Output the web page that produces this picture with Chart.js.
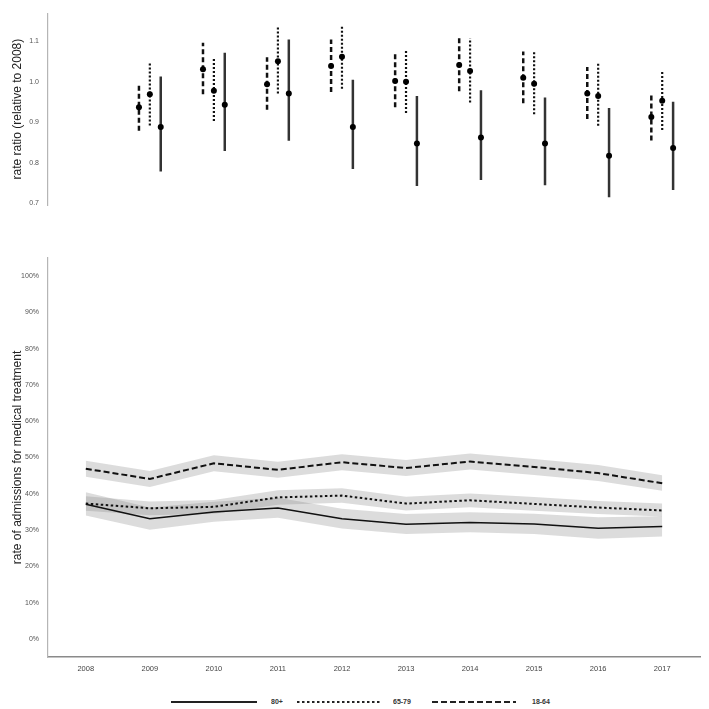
<!DOCTYPE html>
<html>
<head>
<meta charset="utf-8">
<script src="https://cdn.jsdelivr.net/npm/chart.js@4/dist/chart.umd.min.js"></script>
<style>
  html, body { margin: 0; padding: 0; background: #fff; }
  #wrap { position: relative; width: 709px; height: 709px; overflow: hidden; }
  #top { position: absolute; left: 0; top: 0; }
  #bottom { position: absolute; left: 0; top: 220px; }
  .lg { position: absolute; top: 697px; height: 10px; }
  .lg-text { position: absolute; top: 697px; font: bold 7px "Liberation Sans", Arial, sans-serif; color: #333; line-height: 10px; opacity: 0.99; }
</style>
</head>
<body>
<div id="wrap">
  <canvas id="top" width="709" height="220"></canvas>
  <canvas id="bottom" width="709" height="470"></canvas>
  <svg class="lg" style="left:171px" width="86" height="10"><line x1="0" y1="5" x2="86" y2="5" stroke="#222" stroke-width="2"/></svg>
  <span class="lg-text" style="left:271px">80+</span>
  <svg class="lg" style="left:297px" width="84" height="10"><line x1="0" y1="5" x2="84" y2="5" stroke="#222" stroke-width="2" stroke-dasharray="2.5 2.5"/></svg>
  <span class="lg-text" style="left:393px">65-79</span>
  <svg class="lg" style="left:432px" width="84" height="10"><line x1="0" y1="5" x2="84" y2="5" stroke="#222" stroke-width="2" stroke-dasharray="6 3"/></svg>
  <span class="lg-text" style="left:532px">18-64</span>
</div>
<script>
// ===== DATA =====
const years = [2008, 2009, 2010, 2011, 2012, 2013, 2014, 2015, 2016, 2017];
const ratioYears = [2009, 2010, 2011, 2012, 2013, 2014, 2015, 2016, 2017];
const groups = ['18-64', '65-79', '80+'];

// rate ratio relative to 2008, with 95% CI
const rr1864 = [0.937, 1.031, 0.994, 1.039, 1.002, 1.042, 1.010, 0.971, 0.913];
const rr1864Lo = [0.879, 0.969, 0.931, 0.975, 0.937, 0.977, 0.947, 0.908, 0.855];
const rr1864Hi = [0.994, 1.097, 1.061, 1.105, 1.070, 1.110, 1.075, 1.037, 0.973];
const rr6579 = [0.969, 0.978, 1.051, 1.062, 1.000, 1.027, 0.995, 0.965, 0.953];
const rr6579Lo = [0.892, 0.903, 0.971, 0.983, 0.923, 0.949, 0.920, 0.891, 0.881];
const rr6579Hi = [1.050, 1.059, 1.136, 1.141, 1.080, 1.108, 1.077, 1.045, 1.026];
const rr80 = [0.888, 0.943, 0.971, 0.888, 0.847, 0.862, 0.847, 0.817, 0.836];
const rr80Lo = [0.778, 0.829, 0.854, 0.784, 0.742, 0.757, 0.744, 0.714, 0.732];
const rr80Hi = [1.013, 1.072, 1.105, 1.005, 0.965, 0.979, 0.961, 0.935, 0.951];
const ratioTicks = [0.7, 0.8, 0.9, 1.0, 1.1];

// rate of admissions for medical treatment (%), with CI band
const adm1864 = [46.9, 44.1, 48.4, 46.6, 48.7, 47.1, 48.9, 47.4, 45.7, 42.9];
const adm1864Lo = [44.7, 41.9, 46.2, 44.4, 46.5, 44.9, 46.7, 45.2, 43.5, 40.8];
const adm1864Hi = [49.1, 46.3, 50.6, 48.8, 50.9, 49.3, 51.1, 49.6, 47.9, 45.1];
const adm6579 = [37.3, 36.0, 36.4, 39.0, 39.5, 37.3, 38.2, 37.2, 36.2, 35.4];
const adm6579Lo = [35.3, 34.1, 34.5, 37.0, 37.5, 35.4, 36.3, 35.3, 34.4, 33.7];
const adm6579Hi = [39.3, 37.9, 38.3, 41.0, 41.5, 39.2, 40.1, 39.1, 38.0, 37.3];
const adm80 = [37.1, 33.1, 35.0, 36.1, 33.1, 31.6, 32.1, 31.7, 30.5, 31.0];
const adm80Lo = [34.0, 30.1, 32.3, 33.4, 30.4, 28.9, 29.4, 28.9, 27.6, 28.2];
const adm80Hi = [40.4, 36.2, 37.8, 38.9, 35.9, 34.4, 34.9, 34.5, 33.5, 33.8];
const pctTicks = [0, 10, 20, 30, 40, 50, 60, 70, 80, 90, 100];

// ===== STYLE =====
const FONT = '"Liberation Sans", Arial, sans-serif';
const STYLES = {
  '18-64': { dash: [5, 3], color: '#111', width: 2.5, offset: -0.17, lineDash: [6, 3], lineWidth: 2 },
  '65-79': { dash: [2, 2], color: '#111', width: 2.2, offset: 0, lineDash: [2.5, 2.5], lineWidth: 2 },
  '80+': { dash: [], color: '#333', width: 2.5, offset: 0.17, lineDash: [], lineWidth: 1.5 },
};
const BAND = 'rgba(128, 128, 128, 0.28)';

function toPoints(xs, ys, off) {
  return ys.map((y, i) => ({ x: xs[i] + off, y }));
}

function errorBarPoints(xs, lo, hi, off) {
  const pts = [];
  xs.forEach((x, i) => {
    pts.push({ x: x + off, y: lo[i] });
    pts.push({ x: x + off, y: hi[i] });
    pts.push({ x: x + off, y: null });
  });
  return pts;
}

const xRange = { min: 2007.41, max: 2017.59 };

function yAxis(title, ticks, fmt) {
  return {
    afterFit: (s) => { s.width = 48; },
    afterBuildTicks: (s) => { s.ticks = ticks.map((v) => ({ value: v })); },
    grid: { display: false, drawTicks: false },
    border: { display: true, color: '#b5b5b5', width: 1.2 },
    ticks: { color: '#555', padding: 9, font: { family: FONT, size: 7 }, callback: fmt },
    title: { display: true, text: title, color: '#222', font: { family: FONT, size: 12 }, padding: { top: 10, bottom: 0 } },
  };
}

// ===== TOP: RATE RATIO ERROR BARS =====
const ratioSets = [
  ['18-64', rr1864, rr1864Lo, rr1864Hi],
  ['65-79', rr6579, rr6579Lo, rr6579Hi],
  ['80+', rr80, rr80Lo, rr80Hi],
];
const topDatasets = [];
ratioSets.forEach(([g, v, lo, hi]) => {
  const st = STYLES[g];
  topDatasets.push({
    label: g,
    data: toPoints(ratioYears, v, st.offset),
    showLine: false,
    pointRadius: 3,
    pointBackgroundColor: '#000',
    pointBorderWidth: 0,
    order: 0,
  });
  topDatasets.push({
    label: g + ' CI',
    data: errorBarPoints(ratioYears, lo, hi, st.offset),
    borderColor: st.color,
    borderWidth: st.width,
    borderDash: st.dash,
    pointRadius: 0,
    spanGaps: false,
    order: 1,
  });
});

new Chart(document.getElementById('top'), {
  type: 'line',
  data: { datasets: topDatasets },
  options: {
    responsive: false,
    animation: false,
    layout: { padding: { top: 8, bottom: 15, right: 9, left: 0 } },
    plugins: { legend: { display: false }, tooltip: { enabled: false } },
    scales: {
      x: { type: 'linear', ...xRange, display: false },
      y: { min: 0.695, max: 1.17, ...yAxis('rate ratio (relative to 2008)', ratioTicks, (v) => v.toFixed(1)) },
    },
  },
});

// ===== BOTTOM: ADMISSION RATES WITH BANDS =====
const admSets = [
  ['80+', adm80, adm80Lo, adm80Hi],
  ['65-79', adm6579, adm6579Lo, adm6579Hi],
  ['18-64', adm1864, adm1864Lo, adm1864Hi],
];
const bottomDatasets = [];
admSets.forEach(([g, v, lo, hi]) => {
  const st = STYLES[g];
  bottomDatasets.push({
    label: g,
    data: toPoints(years, v, 0),
    borderColor: '#111',
    borderWidth: st.lineWidth,
    borderDash: st.lineDash,
    pointRadius: 0,
    order: 0,
  });
  bottomDatasets.push({
    label: g + ' upper',
    data: toPoints(years, hi, 0),
    borderWidth: 0,
    pointRadius: 0,
    fill: false,
    order: 1,
  });
  bottomDatasets.push({
    label: g + ' lower',
    data: toPoints(years, lo, 0),
    borderWidth: 0,
    pointRadius: 0,
    backgroundColor: BAND,
    fill: '-1',
    order: 1,
  });
});

new Chart(document.getElementById('bottom'), {
  type: 'line',
  data: { datasets: bottomDatasets },
  options: {
    responsive: false,
    animation: false,
    layout: { padding: { top: 38, bottom: 8, right: 9, left: 0 } },
    plugins: { legend: { display: false }, tooltip: { enabled: false } },
    scales: {
      x: {
        type: 'linear',
        ...xRange,
        afterFit: (s) => { s.height = 25; },
        afterBuildTicks: (s) => { s.ticks = years.map((v) => ({ value: v })); },
        grid: { display: false, drawTicks: false },
        border: { display: true, color: '#8a8a8a', width: 1.5 },
        ticks: { color: '#444', padding: 7, maxRotation: 0, font: { family: FONT, size: 7.5 }, callback: (v) => String(v) },
      },
      y: { min: -5, max: 105, ...yAxis('rate of admissions for medical treatment', pctTicks, (v) => v + '%') },
    },
  },
});
</script>
</body>
</html>
